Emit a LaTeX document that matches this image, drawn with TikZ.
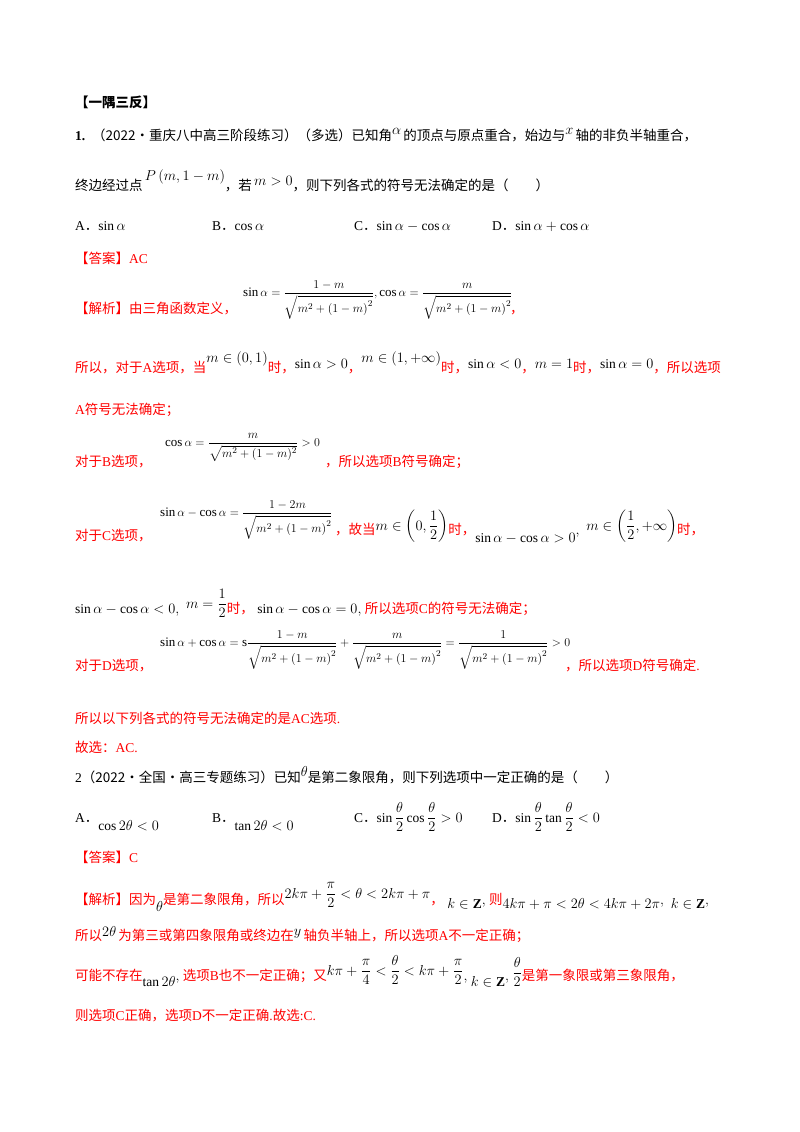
\documentclass[tikz,border=0pt]{standalone}
\usepackage{fontspec}
\usepackage{amsmath,amssymb}
\setmainfont{Liberation Serif}
\newfontfamily\cjk{Noto Sans CJK SC}
\definecolor{ared}{RGB}{255,0,0}
\tikzset{t/.style={anchor=base west,inner sep=0pt,font=\fontsize{13.5}{15}\selectfont},
 r/.style={t,text=ared},
 m/.style={anchor=west,inner sep=0pt,font=\fontsize{13}{15}\selectfont}}
\newcommand{\cj}[1]{{\cjk #1}}
\newcommand{\up}[2][6pt]{\textcolor{black}{\raisebox{#1}{$#2$}}}
\newcommand{\bk}[1]{\textcolor{black}{$#1$}}
\newcommand{\sq}{\sqrt{m^2+\left(1-m\right)^2}}
\begin{document}
\begin{tikzpicture}[x=1pt,y=-1pt]
\useasboundingbox (0,0) rectangle (800,1132);
\fill[white] (0,0) rectangle (800,1132);
\node[t] (h) at (75,107) {\cjk\bfseries 【一隅三反】};
\node[t] (q1) at (75,140) {\textbf{1.}\ \ \cj{（2022·重庆八中高三阶段练习）（多选）已知角}\up{\alpha}\,\cj{的顶点与原点重合，始边与}\up{x}\,\cj{轴的非负半轴重合，}};
\node[t] (q1b) at (75,190) {\cj{终边经过点}\,\up[10pt]{P\left(m,1-m\right)}\cj{，若}\,\up[5pt]{m>0}\cj{，则下列各式的符号无法确定的是（\quad\quad）}};
\node[t] (oa) at (75,230) {A\cj{．}$\sin\alpha$};
\node[t] (ob) at (212,230) {B\cj{．}$\cos\alpha$};
\node[t] (oc) at (354,230) {C\cj{．}$\sin\alpha-\cos\alpha$};
\node[t] (od) at (492,230) {D\cj{．}$\sin\alpha+\cos\alpha$};
\node[r] (ans1) at (75,263) {\cj{【答案】}AC};
\node[r] (j1) at (75,313) {\cj{【解析】由三角函数定义，}};
\node[m] (f1) at (243,300) {$\sin\alpha=\dfrac{1-m}{\sq},\cos\alpha=\dfrac{m}{\sq}$};
\node[r] (f1c) at (510,313) {\cj{，}};
\node[r] (l3) at (75,372) {\cj{所以，对于}A\cj{选项，当}\up[10pt]{m\in\left(0,1\right)}\cj{时，}\up[4pt]{\sin\alpha>0}\cj{，}\up[10pt]{m\in\left(1,+\infty\right)}\cj{时，}\up[4pt]{\sin\alpha<0}\cj{，}\up[4pt]{m=1}\cj{时，}\up[4pt]{\sin\alpha=0}\cj{，所以选项}};
\node[r] (l4) at (75,414) {A\cj{符号无法确定；}};
\node[r] (l5) at (75,466) {\cj{对于}B\cj{选项，}};
\node[m] (f2) at (165,447) {$\cos\alpha=\dfrac{m}{\sqrt{m^2+(1-m)^2}}>0$};
\node[r] (l5b) at (325,466) {\cj{，所以选项}B\cj{符号确定；}};
\node[r] (l6) at (75,540) {\cj{对于}C\cj{选项，}};
\node[m] (f3) at (160,520) {$\sin\alpha-\cos\alpha=\dfrac{1-2m}{\sq}$};
\node[r] (l6b) at (335,534) {\cj{，故当}\up[4pt]{m\in\left(0,\dfrac12\right)}\cj{时，}\up[-8pt]{\sin\alpha-\cos\alpha>0}\bk{,}\ \ \up[4pt]{m\in\left(\dfrac12,+\infty\right)}\cj{时，}};
\node[r] (l7) at (75,613) {\bk{\sin\alpha-\cos\alpha<0,}\ \ \up[5pt]{m=\dfrac12}\cj{时，}\ \bk{\sin\alpha-\cos\alpha=0,}\ \cj{所以选项}C\cj{的符号无法确定；}};
\node[r] (l8) at (75,670) {\cj{对于}D\cj{选项，}};
\node[m] (f4) at (160,650) {$\sin\alpha+\cos\alpha=\mathrm{s}\dfrac{1-m}{\sq}+\dfrac{m}{\sq}=\dfrac{1}{\sq}>0$};
\node[r] (l8b) at (565,670) {\cj{，所以选项}D\cj{符号确定}.};
\node[r] (l9) at (75,723) {\cj{所以以下列各式的符号无法确定的是}AC\cj{选项}.};
\node[r] (l10) at (75,752) {\cj{故选：}AC.};
\node[t] (q2) at (75,782) {2\cj{（2022·全国·高三专题练习）已知}\up{\theta}\cj{是第二象限角，则下列选项中一定正确的是（\quad\quad）}};
\node[t] (pa) at (75,822) {A\cj{．}\up[-8pt]{\cos2\theta<0}};
\node[t] (pb) at (212,822) {B\cj{．}\up[-8pt]{\tan2\theta<0}};
\node[t] (pc) at (354,822) {C\cj{．}$\sin\dfrac{\theta}{2}\cos\dfrac{\theta}{2}>0$};
\node[t] (pd) at (492,822) {D\cj{．}$\sin\dfrac{\theta}{2}\tan\dfrac{\theta}{2}<0$};
\node[r] (ans2) at (75,862) {\cj{【答案】}C};
\node[r] (j2) at (75,904) {\cj{【解析】因为}\up[-7pt]{\theta}\cj{是第二象限角，所以}\up[6pt]{2k\pi+\dfrac{\pi}{2}<\theta<2k\pi+\pi}\cj{，}\ \up[-4pt]{k\in\mathbf{Z}}\bk{,}\ \cj{则}\up[-4pt]{4k\pi+\pi<2\theta<4k\pi+2\pi}\bk{,}\ \ \up[-4pt]{k\in\mathbf{Z}}\bk{,}};
\node[r] (l11) at (75,940) {\cj{所以}\up[4pt]{2\theta}\,\cj{为第三或第四象限角或终边在}\up[5pt]{y}\,\cj{轴负半轴上，所以选项}A\cj{不一定正确；}};
\node[r] (l12) at (75,980) {\cj{可能不存在}\up[-6pt]{\tan2\theta}\bk{,}\ \cj{选项}B\cj{也不一定正确；又}\up[5pt]{k\pi+\dfrac{\pi}{4}<\dfrac{\theta}{2}<k\pi+\dfrac{\pi}{2}}\bk{,}\ \up[-6pt]{k\in\mathbf{Z}}\bk{,}\ \up[3pt]{\dfrac{\theta}{2}}\cj{是第一象限或第三象限角，}};
\node[r] (l13) at (75,1020) {\cj{则选项}C\cj{正确，选项}D\cj{不一定正确}.\cj{故选}:C.};
\end{tikzpicture}
\end{document}
